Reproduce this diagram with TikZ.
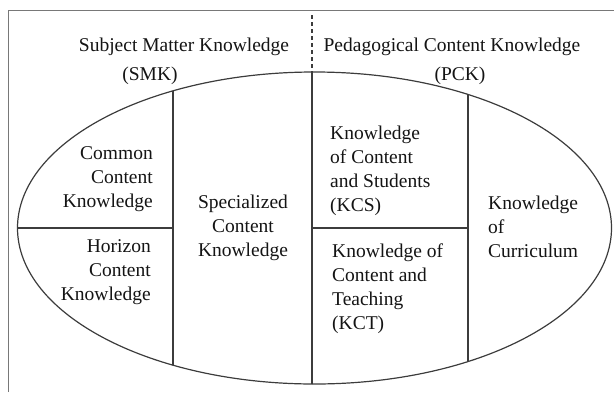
\documentclass[tikz,border=0pt]{standalone}
\usepackage{fontspec}
\setmainfont{Liberation Serif}
\usepackage{tikz}
\definecolor{framegray}{RGB}{120, 120, 120}
\definecolor{linegray}{RGB}{60, 60, 60}
\definecolor{textblack}{RGB}{20, 20, 20}

\begin{document}
\begin{tikzpicture}[
        x=1pt, y=-1pt,
        frame/.style={draw=framegray, line width=1pt},
        divider/.style={draw=linegray, line width=1.2pt},
        split/.style={draw=linegray, line width=1.6pt, dash pattern=on 4pt off 3pt},
        label/.style={inner sep=0pt, text=textblack, font=\fontsize{19.5}{24}\selectfont},
        header/.style={inner sep=0pt, text=textblack, font=\fontsize{19.5}{24}\selectfont}
    ]
    \useasboundingbox (0,0) rectangle (614,392);

    % Outer frame (open at right and bottom)
    \draw[frame] (8,392) -- (8,10) -- (614,10);

    % Headers
    \node[header] (smk) at (184,47) {Subject Matter Knowledge};
    \node[header] (smkabbr) at (150,76) {(SMK)};
    \node[header] (pck) at (452,47) {Pedagogical Content Knowledge};
    \node[header] (pckabbr) at (460,76) {(PCK)};

    % Ellipse and its parts
    \begin{scope}
        \clip (314.5,228) ellipse [x radius=297, y radius=156];
        \draw[divider] (173,0) -- (173,392);
        \draw[divider] (312,0) -- (312,392);
        \draw[divider] (468,0) -- (468,392);
        \draw[divider] (0,228) -- (173,228);
        \draw[divider] (312,228) -- (468,228);
    \end{scope}
    \draw[divider] (314.5,228) ellipse [x radius=297, y radius=156];
    \draw[split] (312,15) -- (312,72);

    % Subject matter knowledge
    \node[label, anchor=east, align=right] (cck) at (153,179) {Common\\ Content\\ Knowledge};
    \node[label, anchor=east, align=right] (hck) at (151,272) {Horizon\\ Content\\ Knowledge};
    \node[label, align=center] (sck) at (243,228) {Specialized\\ Content\\ Knowledge};

    % Pedagogical content knowledge
    \node[label, anchor=west, align=left] (kcs) at (330,171) {Knowledge\\ of Content\\ and Students\\ (KCS)};
    \node[label, anchor=west, align=left] (kct) at (332,289) {Knowledge of\\ Content and\\ Teaching\\ (KCT)};
    \node[label, anchor=west, align=left] (kc) at (488,227) {Knowledge\\ of\\ Curriculum};

\end{tikzpicture}
\end{document}
